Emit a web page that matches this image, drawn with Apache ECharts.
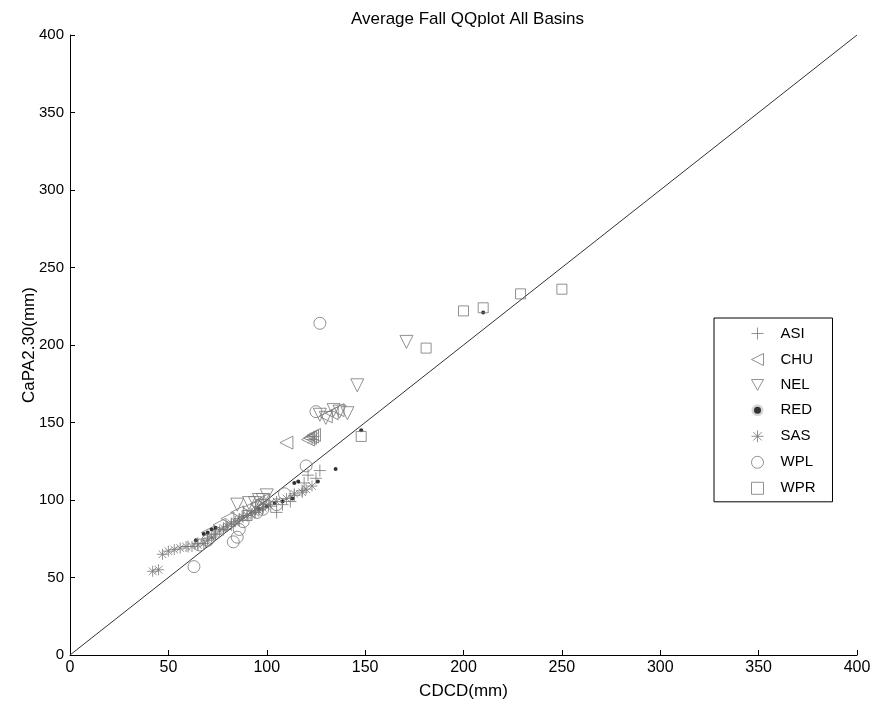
<!DOCTYPE html>
<html><head><meta charset="utf-8">
<script src="https://cdn.jsdelivr.net/npm/echarts@6/dist/echarts.min.js"></script>
<style>html,body{margin:0;padding:0;background:#fff}#c{width:874px;height:705px}</style>
</head><body><div id="c"></div>
<script>
const xTicks = [0,50,100,150,200,250,300,350,400];
const yTicks = [0,50,100,150,200,250,300,350,400];
const refLine = [[0,0],[400,400]];
const ASI = [[60,70],[65,72],[70,75],[74,78],[78,81],[82,84],[86,87],[90,90],[94,92],[98,95],[102,96],[105,92],[108,97],[112,99],[114,103],[118,106],[119,111],[121,116],[125,114],[127,119]];
const CHU = [[70,79],[76,84],[80,88],[85,92],[91,95],[95,97],[98,100],[110,137],[121,139],[122,140],[123,141],[124,142],[130,154],[133,156],[136,158]];
const NEL = [[85,97],[91,98],[94,98],[96,100],[98,100],[100,103],[127,155],[130,153],[134,158],[137,157],[141,156],[146,174],[171,202]];
const RED = [[64,74],[68,78],[70,79],[72,81],[74,82],[96,94],[100,96],[104,98],[108,99],[113,101],[114,111],[116,112],[126,112],[135,120],[148,145],[210,221]];
const SAS = [[42,54],[45,55],[47,65],[50,67],[53,68],[56,69],[59,70],[62,70],[65,71],[68,72],[70,74],[72,76],[74,78],[76,80],[78,82],[80,83],[82,85],[84,86],[86,88],[88,89],[90,90],[92,91],[94,92],[96,93],[98,95],[101,97],[105,99],[110,101],[114,104],[118,105],[120,107],[123,109],[123,139],[124,141]];
const WPL = [[63,57],[66,71],[70,74],[83,73],[85,76],[86,81],[88,86],[95,92],[98,94],[105,97],[109,104],[120,122],[125,157],[127,214]];
const WPR = [[90,90],[97,97],[148,141],[181,198],[200,222],[210,224],[229,233],[250,236]];

const grey = '#777';
const plusPath = 'path://M0,5L10,5M5,0L5,10';
const starPath = 'path://M0,5L10,5M5,0L5,10M1.5,1.5L8.5,8.5M1.5,8.5L8.5,1.5';
const leftTri = 'path://M10,0L0,5L10,10Z';
const downTri = 'path://M0,0L10,0L5,9Z';
function hollow(c){return {color:'none',borderColor:c,borderWidth:1};}
const chart = echarts.init(document.getElementById('c'));
const font = 'Liberation Sans, Arial, sans-serif';
chart.setOption({
  animation:false,
  backgroundColor:'#fff',
  title:{text:'Average Fall QQplot All Basins',left:346,top:6,textStyle:{fontSize:17,fontWeight:'normal',color:'#000',fontFamily:font}},
  grid:{left:70,right:17,top:35,bottom:50},
  legend:{orient:'vertical',left:714,top:318,padding:[7,17,5,35],itemWidth:12,itemHeight:12,itemGap:9,
    borderColor:'#000',borderWidth:1,backgroundColor:'#fff',
    textStyle:{fontSize:15,color:'#000',fontFamily:font,lineHeight:14,padding:[0,0,0,12]},
    data:[
      {name:'ASI',icon:plusPath,itemStyle:hollow(grey)},
      {name:'CHU',icon:leftTri,itemStyle:hollow(grey)},
      {name:'NEL',icon:downTri,itemStyle:hollow(grey)},
      {name:'RED',icon:'circle',itemStyle:{color:'#000',borderColor:'#fff',borderWidth:5}},
      {name:'SAS',icon:starPath,itemStyle:hollow(grey)},
      {name:'WPL',icon:'circle',itemStyle:hollow(grey)},
      {name:'WPR',icon:'rect',itemStyle:{color:'none',borderColor:grey,borderWidth:1}}
    ]},
  xAxis:{type:'value',min:0,max:400,interval:50,name:'CDCD(mm)',nameLocation:'middle',nameGap:28,
    nameTextStyle:{fontSize:17,color:'#000',fontFamily:font},
    axisLine:{lineStyle:{color:'#000'}},axisTick:{inside:true,length:5,lineStyle:{color:'#000'}},
    axisLabel:{fontSize:16,color:'#000',fontFamily:font,margin:5},splitLine:{show:false}},
  yAxis:{type:'value',min:0,max:400,interval:50,name:'CaPA2.30(mm)',nameLocation:'middle',nameGap:32,nameMoveOverlap:false,
    nameTextStyle:{fontSize:17,color:'#000',fontFamily:font},
    axisLine:{show:true,lineStyle:{color:'#000'}},axisTick:{show:true,inside:true,length:5,lineStyle:{color:'#000'}},
    axisLabel:{fontSize:15,color:'#000',fontFamily:font,margin:6},splitLine:{show:false}},
  series:[
    {type:'line',data:refLine,symbol:'none',silent:true,lineStyle:{color:'#333',width:1},z:1},
    {name:'ASI',type:'scatter',data:ASI,symbol:plusPath,symbolSize:12,itemStyle:hollow(grey)},
    {name:'CHU',type:'scatter',data:CHU,symbol:leftTri,symbolSize:13,itemStyle:hollow(grey)},
    {name:'NEL',type:'scatter',data:NEL,symbol:downTri,symbolSize:13,itemStyle:hollow(grey)},
    {name:'RED',type:'scatter',data:RED,symbol:'circle',symbolSize:4,itemStyle:{color:'#000'}},
    {name:'SAS',type:'scatter',data:SAS,symbol:starPath,symbolSize:11,itemStyle:hollow(grey)},
    {name:'WPL',type:'scatter',data:WPL,symbol:'circle',symbolSize:12,itemStyle:hollow(grey)},
    {name:'WPR',type:'scatter',data:WPR,symbol:'rect',symbolSize:10,itemStyle:hollow(grey)}
  ]
});
</script></body></html>
